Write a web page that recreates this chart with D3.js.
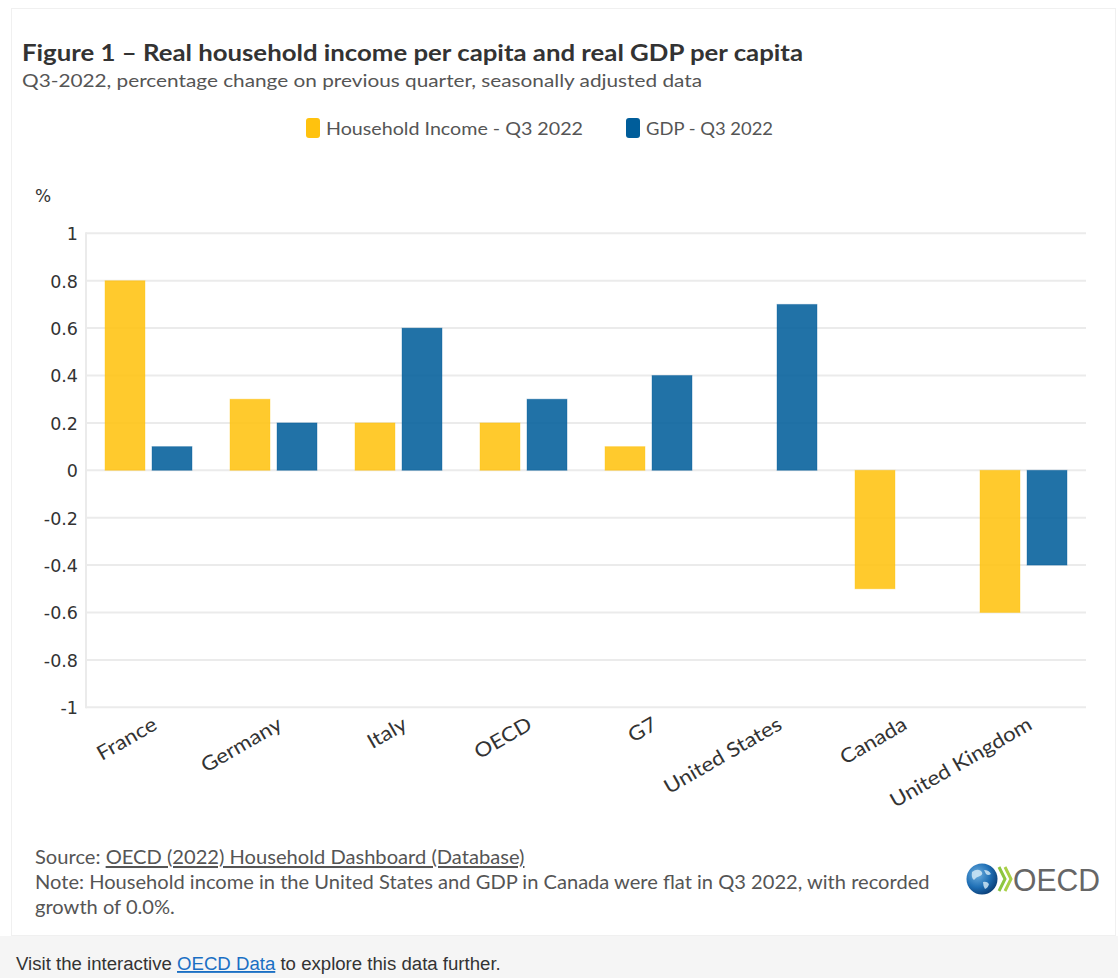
<!DOCTYPE html>
<html><head><meta charset="utf-8">
<script src="https://cdn.jsdelivr.net/npm/d3@7"></script>
<style>
html,body{margin:0;padding:0;background:#fff;}
svg{display:block;}
</style></head>
<body>
<svg id="chart" width="1118" height="978"></svg>
<script>
const categories = ["France","Germany","Italy","OECD","G7","United States","Canada","United Kingdom"];
const seriesNames = ["Household Income - Q3 2022","GDP - Q3 2022"];
const householdIncome = [0.8,0.3,0.2,0.2,0.1,0.0,-0.5,-0.6];
const gdp = [0.1,0.2,0.6,0.3,0.4,0.7,0.0,-0.4];
const yTicks = [1,0.8,0.6,0.4,0.2,0,-0.2,-0.4,-0.6,-0.8,-1];
const yTickLabels = ["1","0.8","0.6","0.4","0.2","0","-0.2","-0.4","-0.6","-0.8","-1"];
const colors = ["#FFC20E","#005D9A"];

const svg = d3.select("#chart");
const W = 1118, H = 978;

svg.append("rect").attr("x",0).attr("y",0).attr("width",W).attr("height",H).attr("fill","#fff");
svg.append("rect").attr("x",0).attr("y",936).attr("width",W).attr("height",H-936).attr("fill","#f5f5f5");
svg.append("rect").attr("x",11.5).attr("y",8.5).attr("width",1104).attr("height",927).attr("fill","#fff").attr("stroke","#f0f0f0");

const font = "'Source Sans Pro', Lato, 'Noto Sans', sans-serif";

function fitLen(sel, w){ sel.attr("textLength", w).attr("lengthAdjust","spacingAndGlyphs"); return sel; }

fitLen(svg.append("text").attr("x",22).attr("y",61).attr("font-family",font).attr("font-weight","bold")
  .attr("font-size",23).attr("fill","#333").text("Figure 1 – Real household income per capita and real GDP per capita"), 781);
fitLen(svg.append("text").attr("x",22).attr("y",87).attr("font-family",font)
  .attr("font-size",18).attr("fill","#555").text("Q3-2022, percentage change on previous quarter, seasonally adjusted data"), 680);

const legendItems = [{x:306, tx:326, w:257},{x:626, tx:646, w:127}];
seriesNames.forEach((n,i)=>{
  const it = legendItems[i];
  svg.append("rect").attr("x",it.x).attr("y",118).attr("width",14).attr("height",20).attr("rx",3).attr("fill",colors[i]);
  fitLen(svg.append("text").attr("x",it.tx).attr("y",135).attr("font-family",font).attr("font-size",18)
    .attr("fill","#555").text(n), it.w);
});

const margin = {left:86, right:1086, top:233.3, bottom:707.3};
const x0 = d3.scaleBand().domain(categories).range([margin.left, margin.right]).paddingInner(0).paddingOuter(0);
const x1 = d3.scaleBand().domain([0,1]).range([0, x0.bandwidth()]).paddingInner(0.149).paddingOuter(0.404);
const y = d3.scaleLinear().domain([-1,1]).range([margin.bottom, margin.top]);

const g = svg.append("g");
g.selectAll("line.grid").data(yTicks).join("line").attr("class","grid")
  .attr("x1",margin.left).attr("x2",margin.right)
  .attr("y1",d=>y(d)).attr("y2",d=>y(d)).attr("stroke","#ebebeb").attr("stroke-width",2);
g.append("line").attr("x1",margin.left).attr("x2",margin.left).attr("y1",margin.top-1).attr("y2",margin.bottom+1)
  .attr("stroke","#ebebeb").attr("stroke-width",2);

const yAxis = d3.axisLeft(y).tickValues(yTicks).tickSize(0).tickPadding(8).tickFormat((d,i)=>yTickLabels[i]);
const ya = svg.append("g").attr("transform",`translate(${margin.left},0)`).call(yAxis);
ya.select(".domain").remove();
ya.selectAll("text").attr("font-family","'DejaVu Sans', sans-serif").attr("font-size",17.5).attr("fill","#333").attr("dy","0.36em");
svg.append("text").attr("x",35).attr("y",202).attr("font-family","'DejaVu Sans', sans-serif").attr("font-size",17).attr("fill","#333").text("%");

const barData = [];
categories.forEach((c,ci)=>{
  barData.push({c, s:0, v:householdIncome[ci]});
  barData.push({c, s:1, v:gdp[ci]});
});
svg.append("g").selectAll("rect").data(barData).join("rect")
  .attr("x",d=>x0(d.c)+x1(d.s))
  .attr("width",x1.bandwidth())
  .attr("y",d=>y(Math.max(0,d.v)))
  .attr("height",d=>Math.abs(y(d.v)-y(0)))
  .attr("fill",d=>colors[d.s]).attr("fill-opacity",0.87)
  .attr("stroke",d=>colors[d.s]).attr("stroke-opacity",0.35).attr("stroke-width",1);

const xAxis = d3.axisBottom(x0).tickSize(0).tickPadding(0);
const xa = svg.append("g").attr("transform",`translate(0,${margin.bottom})`).call(xAxis);
xa.select(".domain").remove();
xa.selectAll("text").attr("font-family",font).attr("font-size",20).attr("fill","#333")
  .attr("text-anchor","end").attr("dy",0)
  .attr("transform","translate(10,21) rotate(-30)");
let ukLen = 0;
xa.selectAll("text").each(function(d){ if(d==="United Kingdom") ukLen = this.getComputedTextLength(); });
const scaleF = 160/ukLen;
xa.selectAll("text").each(function(){ const l=this.getComputedTextLength(); d3.select(this).attr("textLength", l*scaleF).attr("lengthAdjust","spacingAndGlyphs"); });

function fitLine(textSel, target){
  const w = textSel.node().getComputedTextLength();
  const fs = +textSel.attr("font-size");
  textSel.attr("font-size", fs*target/w);
}
const src = svg.append("text").attr("x",35).attr("y",864).attr("font-family",font).attr("font-size",18).attr("fill","#555");
src.append("tspan").text("Source: ");
src.append("tspan").attr("text-decoration","underline").text("OECD (2022) Household Dashboard (Database)");
fitLine(src, 490);
const note1 = svg.append("text").attr("x",35).attr("y",889).attr("font-family",font).attr("font-size",18).attr("fill","#555")
  .text("Note: Household income in the United States and GDP in Canada were flat in Q3 2022, with recorded");
fitLine(note1, 895);
svg.append("text").attr("x",35).attr("y",914).attr("font-family",font).attr("font-size",note1.attr("font-size")).attr("fill","#555")
  .text("growth of 0.0%.");

const logo = svg.append("g").attr("transform","translate(966,862)");
const defs = svg.append("defs");
const rg = defs.append("radialGradient").attr("id","globe").attr("cx","0.35").attr("cy","0.35").attr("r","0.7");
rg.append("stop").attr("offset","0").attr("stop-color","#6fb0e0");
rg.append("stop").attr("offset","0.6").attr("stop-color","#1f6fb5");
rg.append("stop").attr("offset","1").attr("stop-color","#0b3f78");
logo.append("circle").attr("cx",16).attr("cy",17).attr("r",15.5).attr("fill","url(#globe)");
logo.append("path").attr("d","M6,10 q5,-4 9,-1 q3,3 -1,5 q-4,1 -6,4 q-3,-2 -2,-8 Z M18,8 q5,0 7,4 q-3,2 -5,0 Z M17,20 q4,-1 6,2 q-1,4 -4,5 q-2,-3 -2,-7 Z").attr("fill","#d8ecf8").attr("opacity",0.8);
logo.append("path").attr("d","M33,5 L39,17 L33,29").attr("stroke","#8dc63f").attr("stroke-width",3).attr("fill","none");
logo.append("path").attr("d","M39,5 L45,17 L39,29").attr("stroke","#a9cf46").attr("stroke-width",3).attr("fill","none");
fitLen(logo.append("text").attr("x",47).attr("y",29).attr("font-family","'Liberation Sans', Arial, sans-serif").attr("font-size",32).attr("fill","#666").text("OECD"), 87);

const visit = svg.append("text").attr("x",16).attr("y",970).attr("font-family","'Liberation Sans', Arial, sans-serif").attr("font-size",16).attr("fill","#333");
visit.append("tspan").text("Visit the interactive ");
visit.append("tspan").attr("fill","#1a6fc4").attr("text-decoration","underline").text("OECD Data");
visit.append("tspan").text(" to explore this data further.");
fitLine(visit, 485);
</script>
</body></html>
